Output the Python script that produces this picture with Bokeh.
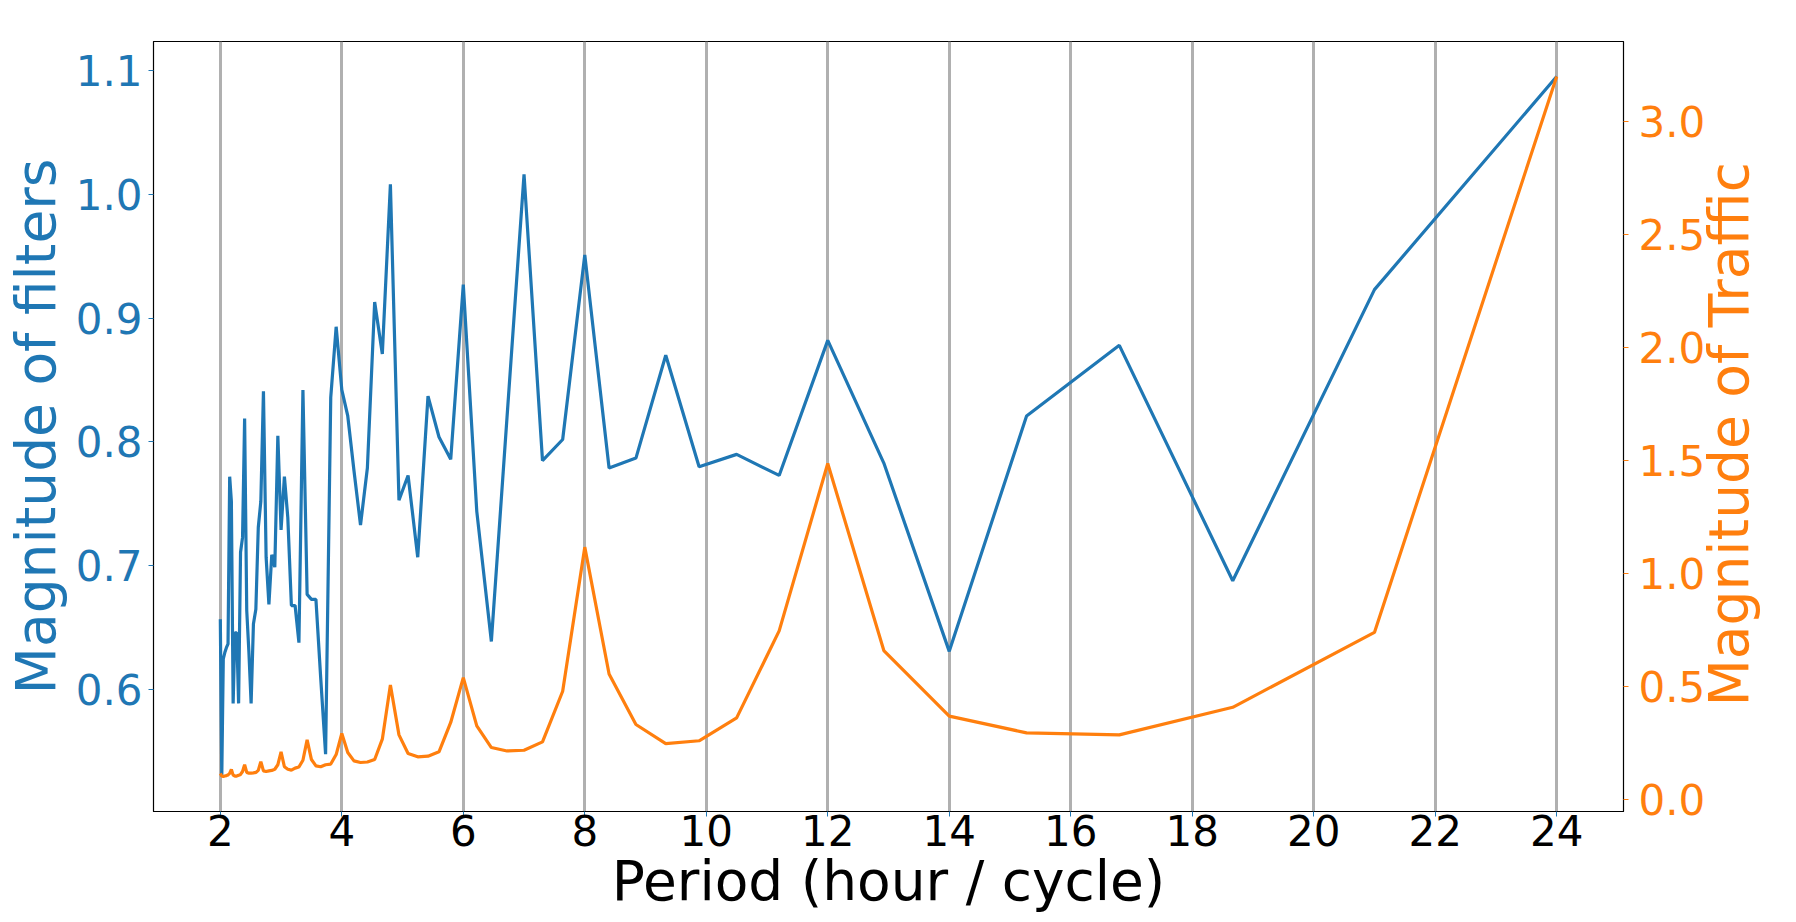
import math
from bokeh.plotting import figure
from bokeh.models import ColumnDataSource, Range1d, LinearAxis, FixedTicker, PrintfTickFormatter
from bokeh.embed import file_html
from bokeh.resources import INLINE

# Period (hour / cycle) of each frequency component
period = [2.0, 2.024, 2.049, 2.074, 2.1, 2.127, 2.154, 2.182, 2.211, 2.24,
          2.27, 2.301, 2.333, 2.366, 2.4, 2.435, 2.471, 2.507, 2.545, 2.585,
          2.625, 2.667, 2.71, 2.754, 2.8, 2.847, 2.897, 2.947, 3.0, 3.055,
          3.111, 3.17, 3.231, 3.294, 3.36, 3.429, 3.5, 3.574, 3.652, 3.733,
          3.818, 3.907, 4.0, 4.098, 4.2, 4.308, 4.421, 4.541, 4.667, 4.8,
          4.941, 5.091, 5.25, 5.419, 5.6, 5.793, 6.0, 6.222, 6.462, 6.72,
          7.0, 7.304, 7.636, 8.0, 8.4, 8.842, 9.333, 9.882, 10.5, 11.2,
          12.0, 12.923, 14.0, 15.273, 16.8, 18.667, 21.0, 24.0]

# Magnitude of filters (left axis)
filters = [0.657, 0.530, 0.625, 0.630, 0.634, 0.637, 0.772, 0.752, 0.589, 0.646,
           0.646, 0.589, 0.711, 0.723, 0.819, 0.664, 0.630, 0.589, 0.653, 0.665,
           0.731, 0.752, 0.841, 0.707, 0.669, 0.709, 0.699, 0.805, 0.729, 0.772,
           0.739, 0.668, 0.668, 0.638, 0.842, 0.677, 0.673, 0.673, 0.610, 0.548,
           0.836, 0.893, 0.842, 0.821, 0.777, 0.733, 0.779, 0.913, 0.871, 1.008,
           0.753, 0.773, 0.707, 0.837, 0.804, 0.786, 0.927, 0.744, 0.639, 0.820,
           1.016, 0.785, 0.802, 0.951, 0.779, 0.787, 0.870, 0.780, 0.790, 0.773,
           0.882, 0.783, 0.631, 0.821, 0.878, 0.688, 0.923, 1.095]

# Magnitude of traffic (right axis)
traffic = [0.116, 0.105, 0.103, 0.105, 0.107, 0.110, 0.117, 0.134, 0.109, 0.105,
           0.105, 0.108, 0.112, 0.125, 0.155, 0.121, 0.118, 0.118, 0.119, 0.121,
           0.130, 0.169, 0.128, 0.125, 0.128, 0.130, 0.135, 0.155, 0.212, 0.146,
           0.135, 0.131, 0.140, 0.145, 0.175, 0.265, 0.178, 0.150, 0.146, 0.155,
           0.158, 0.200, 0.293, 0.209, 0.172, 0.165, 0.167, 0.178, 0.268, 0.508,
           0.287, 0.205, 0.190, 0.193, 0.212, 0.342, 0.540, 0.327, 0.231, 0.216,
           0.219, 0.256, 0.480, 1.117, 0.556, 0.333, 0.248, 0.261, 0.362, 0.747,
           1.487, 0.660, 0.370, 0.296, 0.287, 0.409, 0.740, 3.198]

x_ticks = [2, 4, 6, 8, 10, 12, 14, 16, 18, 20, 22, 24]
left_ticks = [0.6, 0.7, 0.8, 0.9, 1.0, 1.1]
right_ticks = [0.0, 0.5, 1.0, 1.5, 2.0, 2.5, 3.0]

BLUE = "#1f77b4"
ORANGE = "#ff7f0e"
FONT = "DejaVu Sans"
TICK_SIZE = "42px"
LABEL_SIZE = "55px"


def padded(vals, frac=0.05):
    lo, hi = min(vals), max(vals)
    span = hi - lo
    return lo - frac * span, hi + frac * span


x_lo, x_hi = padded(period)
f_lo, f_hi = padded(filters)
t_lo, t_hi = padded(traffic)

source = ColumnDataSource(data=dict(period=period, filters=filters, traffic=traffic))

p = figure(width=1796, height=922, output_backend="svg", toolbar_location=None,
           x_range=Range1d(x_lo, x_hi), y_range=Range1d(f_lo, f_hi),
           min_border_left=150, min_border_right=165, min_border_top=41,
           min_border_bottom=111, background_fill_color="white",
           border_fill_color="white")
p.extra_y_ranges = {"traffic": Range1d(t_lo, t_hi)}

p.outline_line_color = "black"
p.outline_line_width = 1.2
p.outline_line_alpha = 1.0

p.xgrid.grid_line_color = "#b0b0b0"
p.xgrid.grid_line_width = 3
p.ygrid.visible = False

p.line("period", "filters", source=source, line_color=BLUE, line_width=3.2)
p.line("period", "traffic", source=source, line_color=ORANGE, line_width=3.2,
       y_range_name="traffic")

xa = p.xaxis[0]
xa.ticker = FixedTicker(ticks=x_ticks)
xa.axis_label = "Period (hour / cycle)"
xa.axis_label_text_font = FONT
xa.axis_label_text_font_size = LABEL_SIZE
xa.axis_label_text_font_style = "normal"
xa.axis_label_text_color = "black"
xa.axis_label_standoff = 0
xa.major_label_text_font = FONT
xa.major_label_text_font_size = TICK_SIZE
xa.major_label_text_color = "black"
xa.major_label_standoff = -2
xa.major_tick_line_color = BLUE
xa.major_tick_in = 0
xa.major_tick_out = 5
xa.minor_tick_line_color = None
xa.axis_line_color = "black"

ya = p.yaxis[0]
ya.ticker = FixedTicker(ticks=left_ticks)
ya.formatter = PrintfTickFormatter(format="%.1f")
ya.axis_label = "Magnitude of filters"
ya.axis_label_text_font = FONT
ya.axis_label_text_font_size = LABEL_SIZE
ya.axis_label_text_font_style = "normal"
ya.axis_label_text_color = BLUE
ya.major_label_text_font = FONT
ya.major_label_text_font_size = TICK_SIZE
ya.major_label_text_color = BLUE
ya.major_label_standoff = 6
ya.major_tick_line_color = BLUE
ya.major_tick_in = 0
ya.major_tick_out = 5
ya.minor_tick_line_color = None
ya.axis_line_color = "black"

ra = LinearAxis(y_range_name="traffic")
ra.ticker = FixedTicker(ticks=right_ticks)
ra.formatter = PrintfTickFormatter(format="%.1f")
# title reads bottom-to-top; non-breaking spaces lift it to the frame's middle
ra.axis_label = "\u00a0" * 6 + "Magnitude of Traffic"
ra.axis_label_text_font = FONT
ra.axis_label_text_font_size = LABEL_SIZE
ra.axis_label_text_font_style = "normal"
ra.axis_label_text_color = ORANGE
try:
    ra.axis_label_align = "start"
    ra.axis_label_orientation = math.pi / 2
    ra.axis_label_standoff = 21
except AttributeError:
    ra.axis_label = "Magnitude of Traffic"
    ra.axis_label_orientation = "parallel"
    ra.axis_label_standoff = 5
ra.major_label_text_font = FONT
ra.major_label_text_font_size = TICK_SIZE
ra.major_label_text_color = ORANGE
ra.major_label_standoff = 10
ra.major_tick_line_color = ORANGE
ra.major_tick_in = 0
ra.major_tick_out = 5
ra.minor_tick_line_color = None
ra.axis_line_color = "black"
p.add_layout(ra, "right")

open("out.html", "w").write(file_html(p, INLINE))
